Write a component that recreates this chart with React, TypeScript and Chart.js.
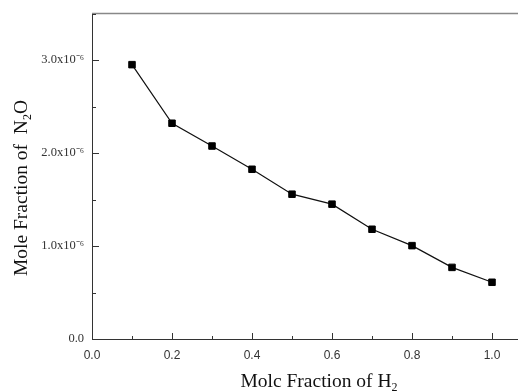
import { useEffect, useRef } from 'react';
import { Chart, registerables } from 'chart.js';

Chart.register(...registerables);

// Data (mole fraction of H2 vs mole fraction of N2O)
const xValues = [0.1, 0.2, 0.3, 0.4, 0.5, 0.6, 0.7, 0.8, 0.9, 1.0];
const yValuesE6 = [2.95, 2.32, 2.075, 1.825, 1.557, 1.45, 1.18, 1.004, 0.77, 0.61];
const yUnit = 1e-6;

const xTickValues = [0, 0.1, 0.2, 0.3, 0.4, 0.5, 0.6, 0.7, 0.8, 0.9, 1.0];
const xTickLabels = ['0.0', '', '0.2', '', '0.4', '', '0.6', '', '0.8', '', '1.0'];
const yTickValuesE6 = [0, 0.5, 1, 1.5, 2, 2.5, 3, 3.5];
const yTickLabels = ['0.0', '', '1.0x10\u207B\u2076', '', '2.0x10\u207B\u2076', '', '3.0x10\u207B\u2076', ''];

const xTitleParts = [
  { text: 'Molc Fraction of H', sub: false },
  { text: '2', sub: true },
];
const yTitleParts = [
  { text: 'Mole Fraction of  N', sub: false },
  { text: '2', sub: true },
  { text: 'O', sub: false },
];

type Part = { text: string; sub: boolean };

// canvas is shifted up by this many px inside its clipping box
const SHIFT = 2;

function drawRich(ctx: CanvasRenderingContext2D, parts: Part[], cx: number, baseline: number) {
  const mainFont = '19.5px "Liberation Serif"';
  const subFont = '12px "Liberation Serif"';
  let total = 0;
  for (const p of parts) {
    ctx.font = p.sub ? subFont : mainFont;
    total += ctx.measureText(p.text).width;
  }
  let x = cx - total / 2;
  ctx.textBaseline = 'alphabetic';
  ctx.textAlign = 'left';
  for (const p of parts) {
    ctx.font = p.sub ? subFont : mainFont;
    ctx.fillText(p.text, x, baseline + (p.sub ? 4 : 0));
    x += ctx.measureText(p.text).width;
  }
}

const framePlugin = {
  id: 'framePlugin',
  afterDraw(chart: any) {
    const ctx: CanvasRenderingContext2D = chart.ctx;
    const { left, right, top, bottom } = chart.chartArea;
    const xs = chart.scales.x;
    const ys = chart.scales.y;
    ctx.save();
    // top frame line
    ctx.strokeStyle = '#888';
    ctx.lineWidth = 1.5;
    ctx.beginPath();
    ctx.moveTo(left, top);
    ctx.lineTo(right, top);
    ctx.stroke();
    // inward ticks
    ctx.strokeStyle = '#333';
    ctx.lineWidth = 1;
    xTickValues.forEach((v, i) => {
      const px = Math.round(xs.getPixelForValue(v)) + 0.5;
      const len = i % 2 === 0 ? 6 : 3;
      ctx.beginPath();
      ctx.moveTo(px, bottom);
      ctx.lineTo(px, bottom - len);
      ctx.stroke();
    });
    yTickValuesE6.forEach((v, i) => {
      const py = Math.round(ys.getPixelForValue(v * yUnit)) + 0.5;
      const len = i % 2 === 0 ? 7 : 4;
      ctx.beginPath();
      ctx.moveTo(left, py);
      ctx.lineTo(left + len, py);
      ctx.stroke();
    });
    // axis titles
    ctx.fillStyle = '#111';
    drawRich(ctx, xTitleParts, 319, 387 + SHIFT);
    ctx.translate(27, 188 + SHIFT);
    ctx.rotate(-Math.PI / 2);
    drawRich(ctx, yTitleParts, 0, 0);
    ctx.restore();
  },
};

export default function App() {
  const canvasRef = useRef<HTMLCanvasElement | null>(null);

  useEffect(() => {
    const canvas = canvasRef.current;
    if (!canvas) return;
    const chart = new Chart(canvas, {
      type: 'line',
      data: {
        datasets: [
          {
            data: xValues.map((x, i) => ({ x, y: yValuesE6[i] * yUnit })),
            borderColor: '#111',
            borderWidth: 1.2,
            backgroundColor: '#000',
            pointStyle: 'rect',
            pointRadius: 4.6,
            pointBorderWidth: 1,
            pointBorderColor: '#000',
            pointBackgroundColor: '#000',
            tension: 0,
          },
        ],
      },
      options: {
        responsive: false,
        animation: false,
        events: [],
        layout: { padding: { top: 11, right: 0, left: 0, bottom: 0 } },
        plugins: { legend: { display: false }, tooltip: { enabled: false } },
        scales: {
          x: {
            type: 'linear',
            min: 0,
            max: 1.066,
            afterBuildTicks: (s: any) => {
              s.ticks = xTickValues.map((v) => ({ value: v }));
            },
            afterFit: (s: any) => {
              s.height = 52;
            },
            ticks: {
              autoSkip: false,
              maxRotation: 0,
              padding: 9,
              color: '#333',
              font: { family: '"Liberation Sans"', size: 12 },
              callback: (_v: any, i: number) => xTickLabels[i],
            },
            grid: { display: false, drawTicks: false },
            border: { display: true, color: '#333', width: 1 },
          },
          y: {
            type: 'linear',
            min: 0,
            max: 3.5 * yUnit,
            afterBuildTicks: (s: any) => {
              s.ticks = yTickValuesE6.map((v) => ({ value: v * yUnit }));
            },
            afterFit: (s: any) => {
              s.width = 92;
            },
            ticks: {
              autoSkip: false,
              padding: 8,
              color: '#333',
              font: { family: '"Liberation Serif"', size: 12.5 },
              callback: (_v: any, i: number) => yTickLabels[i],
            },
            grid: { display: false, drawTicks: false },
            border: { display: true, color: '#333', width: 1 },
          },
        },
      },
      plugins: [framePlugin],
    });
    return () => chart.destroy();
  }, []);

  return (
    <div style={{ position: 'absolute', left: 0, top: 0, width: 518, height: 391, background: '#fff', overflow: 'hidden' }}>
      <canvas
        ref={canvasRef}
        width={524}
        height={391 + SHIFT}
        style={{ display: 'block', marginTop: -SHIFT }}
      />
    </div>
  );
}
